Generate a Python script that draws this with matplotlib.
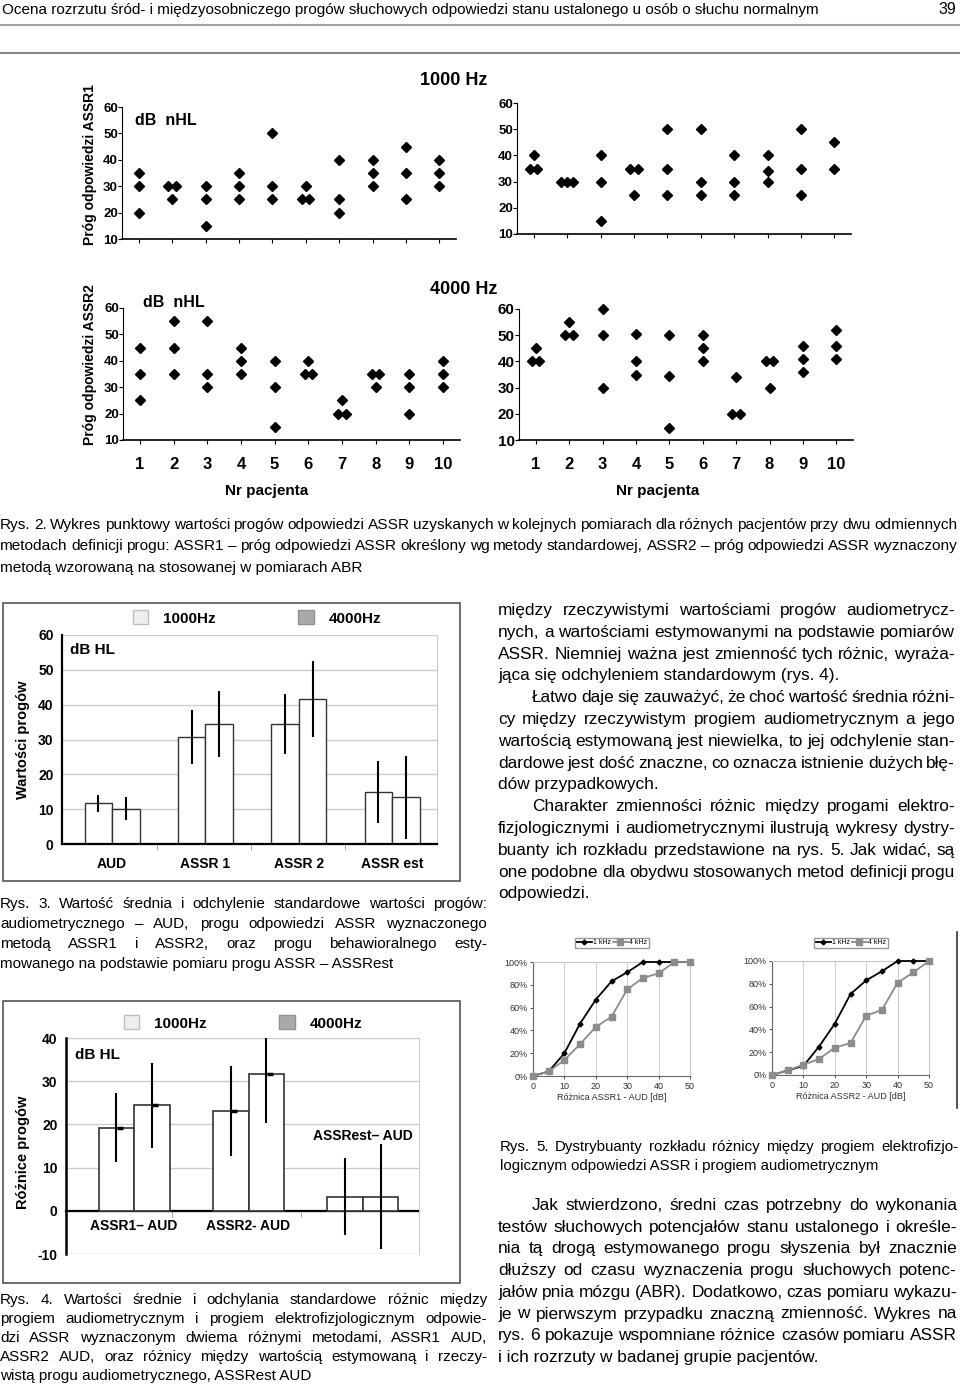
import matplotlib
matplotlib.use('Agg')
import matplotlib.pyplot as plt
from matplotlib.patches import Patch, Rectangle
from matplotlib.lines import Line2D
from matplotlib.ticker import FuncFormatter

W, H = 960, 1387
SANS = ['Liberation Sans', 'DejaVu Sans']
NARROW = ['Liberation Sans Narrow', 'Liberation Sans', 'DejaVu Sans']
plt.rcParams['font.family'] = SANS
plt.rcParams['axes.unicode_minus'] = False

# ---------------- dane ----------------
pacjenci = list(range(1, 11))
# Rys. 2 - progi w kolejnych pomiarach (dB nHL)
assr1_lewy = [[35, 30, 20], [30, 30, 25], [30, 25, 15], [35, 30, 25], [50, 30, 25],
              [30, 25, 25], [40, 25, 20], [40, 35, 30], [45, 35, 25], [40, 35, 30]]
assr1_prawy = [[40, 35, 35], [30, 30, 30], [40, 30, 15], [35, 35, 25], [50, 35, 25],
               [50, 30, 25], [40, 30, 25], [40, 34, 30], [50, 35, 25], [45, 35]]
assr2_lewy = [[45, 35, 25], [55, 45, 35], [55, 35, 30], [45, 40, 35], [40, 30, 15],
              [40, 35, 35], [25, 20, 20], [35, 35, 30], [35, 30, 20], [40, 35, 30]]
assr2_prawy = [[45, 40, 40], [55, 50, 50], [60, 50, 30], [50.5, 40, 35], [50, 34.5, 14.5],
               [50, 45, 40], [34, 20, 20], [40, 40, 30], [46, 41, 36], [52, 46, 41]]

# Rys. 3 - wartosci srednie i SD progow
kategorie3 = ['AUD', 'ASSR 1', 'ASSR 2', 'ASSR est']
srednie_1k = [11.7, 30.7, 34.5, 14.9]
srednie_4k = [10.1, 34.5, 41.7, 13.4]
sd_1k = [2.4, 7.8, 8.6, 8.9]
sd_4k = [3.3, 9.5, 10.9, 12.0]

# Rys. 4 - roznice progow
kategorie4 = ['ASSR1– AUD', 'ASSR2- AUD', 'ASSRest– AUD']
roznice_1k = [19.2, 23.1, 3.3]
roznice_4k = [24.4, 31.7, 3.3]
sd_r_1k = [8.0, 10.4, 9.0]
sd_r_4k = [9.9, 11.4, 12.2]

# Rys. 5 - dystrybuanty
roznica_db = [0, 5, 10, 15, 20, 25, 30, 35, 40, 45, 50]
cdf1_1k = [0, 4, 20, 46, 67, 83, 91, 100, 100, 100, 100]
cdf1_4k = [0, 4, 14, 28, 43, 52, 76, 86, 90, 100, 100]
cdf2_1k = [0, 4, 8, 25, 45, 71, 83, 91, 100, 100, 100]
cdf2_4k = [0, 4, 9, 14, 24, 28, 52, 57, 81, 90, 100]

# ---------------- teksty ----------------
naglowek = "Ocena rozrzutu śród- i międzyosobniczego progów słuchowych odpowiedzi stanu ustalonego u osób o słuchu normalnym"
rys2 = ["Rys. 2. Wykres punktowy wartości progów odpowiedzi ASSR uzyskanych w kolejnych pomiarach dla różnych pacjentów przy dwu odmiennych",
        "metodach definicji progu: ASSR1 – próg odpowiedzi ASSR określony wg metody standardowej, ASSR2 – próg odpowiedzi ASSR wyznaczony",
        "metodą wzorowaną na stosowanej w pomiarach ABR"]
tekst1 = ["między rzeczywistymi wartościami progów audiometrycz-",
          "nych, a wartościami estymowanymi na podstawie pomiarów",
          "ASSR. Niemniej ważna jest zmienność tych różnic, wyraża-",
          "jąca się odchyleniem standardowym (rys. 4).",
          "Łatwo daje się zauważyć, że choć wartość średnia różni-",
          "cy między rzeczywistym progiem audiometrycznym a jego",
          "wartością estymowaną jest niewielka, to jej odchylenie stan-",
          "dardowe jest dość znaczne, co oznacza istnienie dużych błę-",
          "dów przypadkowych.",
          "Charakter zmienności różnic między progami elektro-",
          "fizjologicznymi i audiometrycznymi ilustrują wykresy dystry-",
          "buanty ich rozkładu przedstawione na rys. 5. Jak widać, są",
          "one podobne dla obydwu stosowanych metod definicji progu",
          "odpowiedzi."]
rys3 = ["Rys. 3. Wartość średnia i odchylenie standardowe wartości progów:",
        "audiometrycznego – AUD, progu odpowiedzi ASSR wyznaczonego",
        "metodą ASSR1 i ASSR2, oraz progu behawioralnego esty-",
        "mowanego na podstawie pomiaru progu ASSR – ASSRest"]
rys4 = ["Rys. 4. Wartości średnie i odchylania standardowe różnic między",
        "progiem audiometrycznym i progiem elektrofizjologicznym odpowie-",
        "dzi ASSR wyznaczonym dwiema różnymi metodami, ASSR1 AUD,",
        "ASSR2 AUD, oraz różnicy między wartością estymowaną i rzeczy-",
        "wistą progu audiometrycznego, ASSRest AUD"]
rys5 = ["Rys. 5. Dystrybuanty rozkładu różnicy między progiem elektrofizjo-",
        "logicznym odpowiedzi ASSR i progiem audiometrycznym"]
tekst2 = ["Jak stwierdzono, średni czas potrzebny do wykonania",
          "testów słuchowych potencjałów stanu ustalonego i określe-",
          "nia tą drogą estymowanego progu słyszenia był znacznie",
          "dłuższy od czasu wyznaczenia progu słuchowych potenc-",
          "jałów pnia mózgu (ABR). Dodatkowo, czas pomiaru wykazu-",
          "je w pierwszym przypadku znaczną zmienność. Wykres na",
          "rys. 6 pokazuje wspomniane różnice czasów pomiaru ASSR",
          "i ich rozrzuty w badanej grupie pacjentów."]

fig = plt.figure(figsize=(W / 100, H / 100), dpi=100)
R = fig.canvas.get_renderer()


def fx(x):
    return x / W


def fy(y):
    return 1 - y / H


def rect(x0, y0, x1, y1):
    return [x0 / W, 1 - y1 / H, (x1 - x0) / W, (y1 - y0) / H]


def put(s, x, y, size, fam=SANS, weight='normal', ha='left', x1=None, **kw):
    if x1 is None:
        return fig.text(fx(x), fy(y), s, fontsize=size, family=fam, weight=weight,
                        ha=ha, va='baseline', **kw)
    words = s.split()
    ts = [fig.text(0, 0, w, fontsize=size, family=fam, weight=weight, va='baseline') for w in words]
    ws = [t.get_window_extent(R).width for t in ts]
    gap = (x1 - x - sum(ws)) / (len(words) - 1)
    cx = x
    for t, w in zip(ts, ws):
        t.set_position((fx(cx), fy(y)))
        cx += w + gap


def paragraph(lines, x0, x1, y0, dy, size, fam=SANS, indent=(), last=(), ind=34):
    for i, s in enumerate(lines):
        xs = x0 + (ind if i in indent else 0)
        if i in last:
            put(s, xs, y0 + i * dy, size, fam)
        else:
            put(s, xs, y0 + i * dy, size, fam, x1=x1)


# ---------------- naglowek ----------------
put(naglowek, 2, 14, 11, NARROW)
put("39", 956, 14, 11.5, NARROW, ha='right')
fig.add_artist(Line2D([0, 1], [fy(25), fy(25)], color='#a0a0a0', lw=1.5))
fig.add_artist(Line2D([0, 1], [fy(53), fy(53)], color='#8a8a8a', lw=1.5))


# ---------------- Rys. 2 ----------------
def spread(vals):
    xs, ys = [], []
    for p, v in zip(pacjenci, vals):
        for val in sorted(set(v)):
            n = v.count(val)
            step = 0.22 if n == 2 else 0.17
            for k in range(n):
                xs.append(p + (k - (n - 1) / 2) * step)
                ys.append(val)
    return xs, ys


def panel(box, vals, xlab, ysize):
    ax = fig.add_axes(rect(*box))
    xs, ys = spread(vals)
    ax.plot(xs, ys, 'D', color='k', ms=5.5, ls='none', clip_on=False)
    ax.set_xlim(0.5, 10.5)
    ax.set_ylim(10, 60)
    ax.set_yticks(range(10, 61, 10))
    ax.set_xticks(pacjenci)
    for s in ['top', 'right']:
        ax.spines[s].set_visible(False)
    ax.spines['left'].set_linewidth(0.8)
    ax.spines['bottom'].set_linewidth(1.2)
    ax.tick_params(axis='y', length=3, width=0.8, pad=0, labelsize=ysize)
    ax.tick_params(axis='x', length=3, width=0.8, pad=9, labelsize=12)
    for t in ax.get_yticklabels() + ax.get_xticklabels():
        t.set_fontweight('bold')
    if not xlab:
        ax.set_xticklabels([])
    ax.patch.set_alpha(0)
    return ax


panel((122, 107, 456, 239), assr1_lewy, False, 9.5)
panel((517, 103, 851, 234), assr1_prawy, False, 9.5)
panel((123, 308, 460, 440), assr2_lewy, True, 9.5)
panel((519, 309, 853, 440), assr2_prawy, True, 11)

put("1000 Hz", 420, 85, 13, weight='bold')
put("4000 Hz", 430, 294, 13, weight='bold')
put("dB  nHL", 135, 125, 11.5, weight='bold')
put("dB  nHL", 143, 307, 11.5, weight='bold')
fig.text(fx(90), fy(165), "Próg odpowiedzi ASSR1", rotation=90, ha='center', va='center',
         fontsize=10, weight='bold')
fig.text(fx(90), fy(365), "Próg odpowiedzi ASSR2", rotation=90, ha='center', va='center',
         fontsize=10, weight='bold')
put("Nr pacjenta", 267, 495, 11, weight='bold', ha='center')
put("Nr pacjenta", 658, 495, 11, weight='bold', ha='center')

paragraph(rys2, 0, 957, 529, 21.5, 11.1, NARROW, last=(2,))

# ---------------- Rys. 3 ----------------
fig.add_artist(Rectangle((fx(3), fy(881)), 457 / W, 278 / H, transform=fig.transFigure,
                         fill=False, ec='#555555', lw=1.2))
ax3 = fig.add_axes(rect(62, 635, 437, 844))
bw = 0.295
pos3 = list(range(len(kategorie3)))
ax3.bar([p - bw / 2 for p in pos3], srednie_1k, bw, color='white', ec='#333333', lw=1, zorder=2)
ax3.bar([p + bw / 2 for p in pos3], srednie_4k, bw, color='white', ec='#333333', lw=1, zorder=2)
ax3.errorbar([p - bw / 2 for p in pos3], srednie_1k, yerr=sd_1k, fmt='none', ecolor='k',
             elinewidth=1.5, capsize=0, zorder=3)
ax3.errorbar([p + bw / 2 for p in pos3], srednie_4k, yerr=sd_4k, fmt='none', ecolor='k',
             elinewidth=1.5, capsize=0, zorder=3)
ax3.set_xlim(-0.536, 3.48)
ax3.set_ylim(0, 60)
ax3.set_yticks(range(0, 61, 10))
ax3.set_xticks(pos3, kategorie3)
ax3.set_xticks([0.48, 1.49, 2.49], minor=True)
ax3.yaxis.grid(True, color='#cccccc', lw=1)
ax3.set_axisbelow(True)
ax3.spines['top'].set_visible(False)
ax3.spines['right'].set_color('#cccccc')
ax3.spines['left'].set_linewidth(1.6)
ax3.spines['bottom'].set_linewidth(1.6)
ax3.tick_params(axis='x', which='major', length=0, pad=9, labelsize=10)
ax3.tick_params(axis='x', which='minor', length=4, color='#999999')
ax3.tick_params(axis='y', length=0, pad=6, labelsize=10)
for t in ax3.get_yticklabels() + ax3.get_xticklabels():
    t.set_fontweight('bold')
leg_h = [Patch(facecolor='#efefef', edgecolor='#c0c0c0'), Patch(facecolor='#a9a9a9', edgecolor='#909090')]
ax3.legend(leg_h, ['1000Hz', '4000Hz'], ncol=2, loc='center', frameon=False,
           bbox_to_anchor=(fx(257), fy(618)), bbox_transform=fig.transFigure,
           prop={'weight': 'bold', 'size': 11}, handlelength=1, handleheight=1,
           handletextpad=1.0, columnspacing=5.4)
put("dB HL", 70, 654, 11, weight='bold')
fig.text(fx(23), fy(740), "Wartości progów", rotation=90, ha='center', va='center',
         fontsize=10.5, weight='bold')

paragraph(rys3, 0, 487, 908, 20, 11, last=(3,))

# ---------------- Rys. 4 ----------------
fig.add_artist(Rectangle((fx(3), fy(1283)), 457 / W, 282 / H, transform=fig.transFigure,
                         fill=False, ec='#555555', lw=1.2))
ax4 = fig.add_axes(rect(66, 1038, 419, 1254))
bw4 = 0.31
pos4 = list(range(len(kategorie4)))
ax4.bar([p - bw4 / 2 for p in pos4], roznice_1k, bw4, color='white', ec='#333333', lw=1.2, zorder=2)
ax4.bar([p + bw4 / 2 for p in pos4], roznice_4k, bw4, color='white', ec='#333333', lw=1.2, zorder=2)
ax4.errorbar([p - bw4 / 2 for p in pos4], roznice_1k, yerr=sd_r_1k, fmt='none', ecolor='k',
             elinewidth=1.5, capsize=0, zorder=3)
ax4.errorbar([p + bw4 / 2 for p in pos4], roznice_4k, yerr=sd_r_4k, fmt='none', ecolor='k',
             elinewidth=1.5, capsize=0, zorder=3)
ax4.plot([p - bw4 / 2 + 0.03 for p in pos4[:2]] + [p + bw4 / 2 + 0.03 for p in pos4[:2]],
         roznice_1k[:2] + roznice_4k[:2], ls='none', marker='_', ms=5, mew=2.5, color='k', zorder=4)
ax4.set_xlim(-0.595, 2.49)
ax4.set_ylim(-10, 40)
ax4.set_yticks(range(-10, 41, 10))
ax4.set_xticks(pos4[:2], kategorie4[:2])
ax4.set_xticks([0.33, 1.46], minor=True)
ax4.yaxis.grid(True, color='#cccccc', lw=1)
ax4.set_axisbelow(True)
ax4.spines['top'].set_visible(False)
ax4.spines['right'].set_color('#cccccc')
ax4.spines['left'].set_linewidth(1.8)
ax4.spines['bottom'].set_position(('data', 0))
ax4.spines['bottom'].set_linewidth(1.6)
ax4.spines['bottom'].set_zorder(1)
ax4.tick_params(axis='x', which='major', length=0, pad=6, labelsize=10)
ax4.tick_params(axis='x', which='minor', length=4, color='#999999')
ax4.tick_params(axis='y', length=0, pad=6, labelsize=10)
for t in ax4.get_yticklabels() + ax4.get_xticklabels():
    t.set_fontweight('bold')
ax4.text(pos4[2], 17.2, kategorie4[2], ha='center', va='center', fontsize=10, weight='bold')
ax4.legend(leg_h, ['1000Hz', '4000Hz'], ncol=2, loc='center', frameon=False,
           bbox_to_anchor=(fx(243), fy(1023)), bbox_transform=fig.transFigure,
           prop={'weight': 'bold', 'size': 11}, handlelength=1, handleheight=1,
           handletextpad=1.0, columnspacing=4.75)
put("dB HL", 75, 1059, 11, weight='bold')
fig.text(fx(23), fy(1152), "Różnice progów", rotation=90, ha='center', va='center',
         fontsize=10.5, weight='bold')

paragraph(rys4, 0, 487, 1304, 19, 11, last=(4,))

# ---------------- Rys. 5 ----------------
pct = FuncFormatter(lambda v, p: f"{v:.0f}%")


def cdf_panel(box, y1k, y4k, xlab, leg_xy):
    ax = fig.add_axes(rect(*box))
    l1, = ax.plot(roznica_db, y1k, color='k', lw=1.3, marker='D', ms=2.5, clip_on=False, zorder=3)
    l4, = ax.plot(roznica_db, y4k, color='#8c8c8c', lw=1.3, marker='s', ms=4, clip_on=False, zorder=4)
    ax.set_xlim(0, 50)
    ax.set_ylim(0, 100)
    ax.set_xticks(range(0, 51, 10))
    ax.set_yticks(range(0, 101, 20))
    ax.yaxis.set_major_formatter(pct)
    ax.xaxis.grid(True, color='#d0d0d0', lw=0.8)
    for s in ['top', 'right']:
        ax.spines[s].set_color('#c8c8c8')
    for s in ['left', 'bottom']:
        ax.spines[s].set_color('#666666')
    ax.tick_params(length=2, width=0.6, pad=2, labelsize=6.5, colors='#333333')
    ax.set_xlabel(xlab, fontsize=6.5, labelpad=2, color='#333333')
    ax.legend([l1, l4], ['1 kHz', '4 kHz'], ncol=2, loc='center', fancybox=False,
              bbox_to_anchor=(fx(leg_xy[0]), fy(leg_xy[1])), bbox_transform=fig.transFigure,
              fontsize=5, handlelength=2.2, handletextpad=0.2, columnspacing=0.2,
              borderpad=0.25, edgecolor='#999999', framealpha=1)
    return ax


cdf_panel((533, 962, 690, 1076), cdf1_1k, cdf1_4k, "Różnica ASSR1 - AUD [dB]", (612, 943))
cdf_panel((772, 961, 929, 1075), cdf2_1k, cdf2_4k, "Różnica ASSR2 - AUD [dB]", (851, 943))
fig.add_artist(Line2D([fx(957), fx(957)], [fy(932), fy(1108)], color='#333333', lw=1.2))

paragraph(rys5, 500, 958, 1151, 19, 10.8, last=(1,))

# ---------------- tekst ----------------
paragraph(tekst1, 498, 955, 615, 21.8, 12.4, indent=(4, 9), last=(3, 8, 13))
paragraph(tekst2, 498, 957, 1210, 21.7, 12.4, indent=(0,), last=(7,))

fig.savefig('out.png', dpi=100)
